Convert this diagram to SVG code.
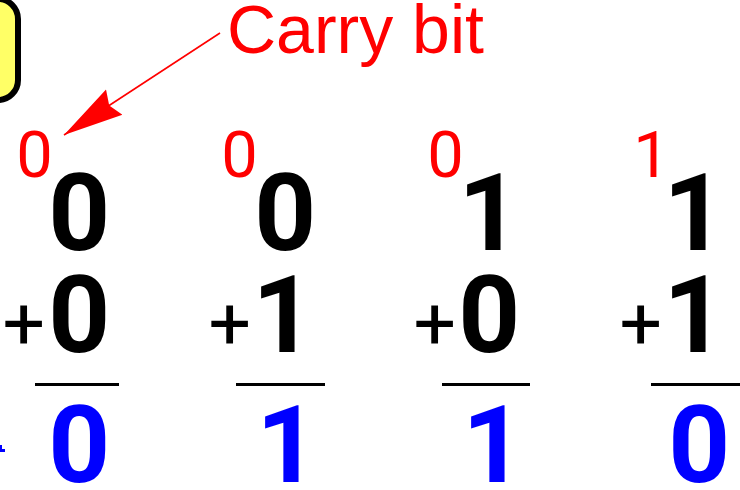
<svg xmlns="http://www.w3.org/2000/svg" width="740" height="490" viewBox="0 0 740 490">
<style>
.carry{font-family:Roboto,"Liberation Sans",sans-serif;font-size:65px;fill:#FF0000}
.dig{font-family:Roboto,"Liberation Sans",sans-serif;font-size:108px;font-weight:bold;fill:#000}
.res{font-family:Roboto,"Liberation Sans",sans-serif;font-size:108px;font-weight:bold;fill:#0000FF}
.plus{font-family:Roboto,"Liberation Sans",sans-serif;font-size:75px;fill:#000}
.rule{stroke:#000;stroke-width:3}
.lbl{font-family:"Liberation Sans",Arial,sans-serif;font-size:68px;fill:#FF0000}
</style>
<defs>
<marker id="ah" markerUnits="userSpaceOnUse" viewBox="0 0 60 40" refX="60" refY="20" markerWidth="60" markerHeight="40" orient="auto">
<path d="M0,5 L60,20 L0,35 L6,20 Z" fill="#FF0000"/>
</marker>
</defs>
<rect width="740" height="490" fill="#fff"/>
<g id="box">
<rect x="-100" y="-1" width="118" height="101" rx="20" fill="#FFFF66" stroke="#000" stroke-width="6"/>
</g>
<g id="label">
<text class="lbl" x="227" y="53">Carry bit</text>
</g>
<g id="connectors">
<line x1="220" y1="33" x2="64" y2="135" stroke="#FF0000" stroke-width="1.6" marker-end="url(#ah)"/>
</g>
<g id="col1">
<text class="carry" x="16.2" y="176.5">0</text>
<text class="dig" x="48.3" y="249.5">0</text>
<text class="plus" x="2.4" y="348.5">+</text>
<text class="dig" x="48.3" y="352">0</text>
<line class="rule" x1="35" y1="384.5" x2="119" y2="384.5"/>
<text class="res" x="48.3" y="481.5">0</text>
</g>
<g id="col2">
<text class="carry" x="221.2" y="176.5">0</text>
<text class="dig" x="254.3" y="249.5">0</text>
<text class="plus" x="208.4" y="348.5">+</text>
<text class="dig" x="252.2" y="352">1</text>
<line class="rule" x1="236" y1="384.5" x2="325" y2="384.5"/>
<text class="res" x="256.2" y="481.5">1</text>
</g>
<g id="col3">
<text class="carry" x="427.2" y="176.5">0</text>
<text class="dig" x="458.2" y="249.5">1</text>
<text class="plus" x="413.4" y="348.5">+</text>
<text class="dig" x="458.3" y="352">0</text>
<line class="rule" x1="442" y1="384.5" x2="530" y2="384.5"/>
<text class="res" x="462.2" y="481.5">1</text>
</g>
<g id="col4">
<text class="carry" x="633.2" y="176.5">1</text>
<text class="dig" x="663.2" y="249.5">1</text>
<text class="plus" x="619.4" y="348.5">+</text>
<text class="dig" x="663.2" y="352">1</text>
<line class="rule" x1="651" y1="384.5" x2="742" y2="384.5"/>
<text class="res" x="668.3" y="481.5">0</text>
</g>
<g id="fragment">
<rect x="0" y="445" width="2" height="5" fill="#0000FF"/>
<rect x="0" y="449" width="5" height="3" fill="#0000FF"/>
</g>
</svg>
